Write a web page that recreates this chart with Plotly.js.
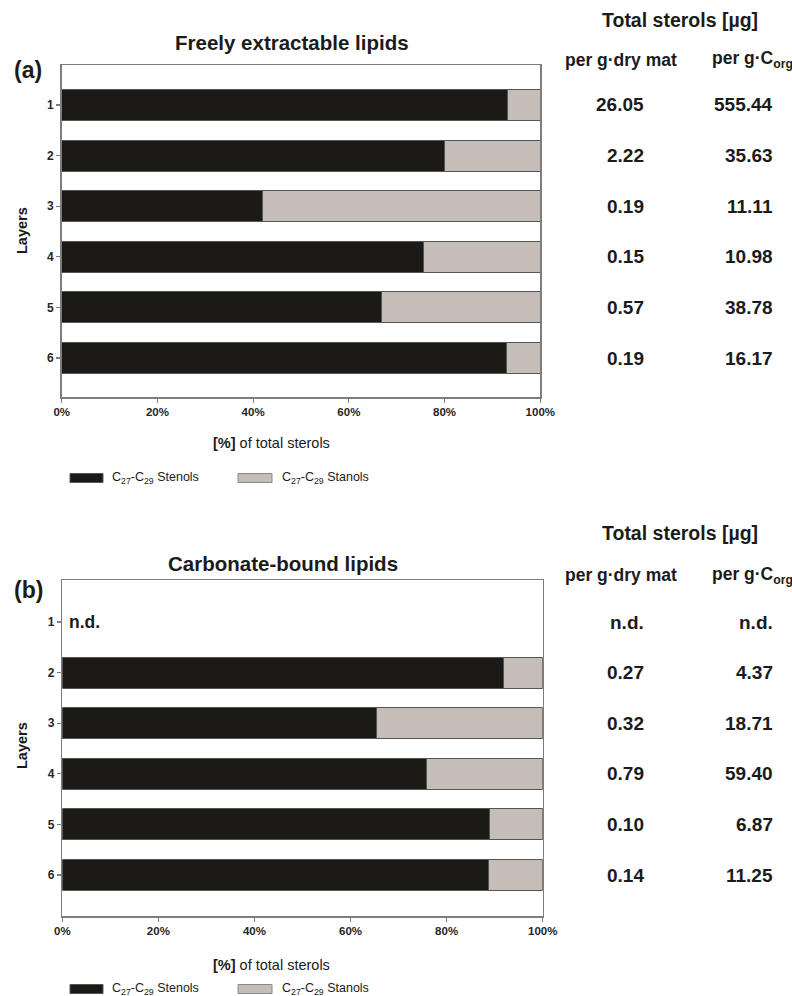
<!DOCTYPE html>
<html>
<head>
<meta charset="utf-8">
<script src="https://cdn.plot.ly/plotly-3.0.1.min.js"></script>
<style>
  html, body { margin: 0; padding: 0; background: #fff; }
  #chart { width: 792px; height: 996px; }
</style>
</head>
<body>
<div id="chart"></div>
<script>
// Layers (depth order, top to bottom)
const layers = [1, 2, 3, 4, 5, 6];

// (a) Freely extractable lipids: share of total sterols [%]
const freeStenols = [93.1, 80.0, 42.0, 75.5, 66.8, 93.0];
const freeStanols = [6.9, 20.0, 58.0, 24.5, 33.2, 7.0];
// Total sterols [µg]
const freePerDryMat = [26.05, 2.22, 0.19, 0.15, 0.57, 0.19];
const freePerCorg = [555.44, 35.63, 11.11, 10.98, 38.78, 16.17];

// (b) Carbonate-bound lipids: share of total sterols [%] (layer 1 not detected)
const carbStenols = [null, 91.9, 65.5, 75.8, 89.0, 88.8];
const carbStanols = [null, 8.1, 34.5, 24.2, 11.0, 11.2];
const carbPerDryMat = [null, 0.27, 0.32, 0.79, 0.10, 0.14];
const carbPerCorg = [null, 4.37, 18.71, 59.40, 6.87, 11.25];

const xTicks = [0, 20, 40, 60, 80, 100];
const xTickText = ['0%', '20%', '40%', '60%', '80%', '100%'];
const seriesNames = ['C<sub>27</sub>-C<sub>29</sub> Stenols', 'C<sub>27</sub>-C<sub>29</sub> Stanols'];

const W = 792, H = 996;
const px = x => x / W;
const py = y => 1 - y / H;

const FONT = 'Liberation Sans, Arial, Helvetica, sans-serif';
const TXT = '#1b1b1b';
const STENOL = '#1c1a17';
const STANOL = '#c4bdb8';
const EDGE = '#555555';
const FRAME = '#7d7d7d';

function barTrace(vals, name, color, xa, ya) {
  return {
    type: 'bar', orientation: 'h',
    y: layers, x: vals, name: name,
    xaxis: xa, yaxis: ya,
    width: 0.61,
    marker: { color: color, line: { color: EDGE, width: 1 } },
    showlegend: false, hoverinfo: 'x+y'
  };
}

const data = [
  barTrace(freeStenols, seriesNames[0], STENOL, 'x', 'y'),
  barTrace(freeStanols, seriesNames[1], STANOL, 'x', 'y'),
  barTrace(carbStenols, seriesNames[0], STENOL, 'x2', 'y2'),
  barTrace(carbStanols, seriesNames[1], STANOL, 'x2', 'y2')
];

function xAxis(domain, anchor) {
  return {
    domain: domain, anchor: anchor, range: [0, 100],
    tickmode: 'array', tickvals: xTicks,
    ticktext: xTickText.map(t => '<b>' + t + '</b>'),
    ticks: 'outside', ticklen: 4, tickwidth: 1.2, tickcolor: FRAME,
    showline: true, linecolor: FRAME, linewidth: 1.5, mirror: true,
    showgrid: false, zeroline: false, automargin: false,
    tickfont: { family: FONT, size: 11.5, color: '#262626' }
  };
}
function yAxis(domain, anchor, range) {
  return {
    domain: domain, anchor: anchor, range: range,
    tickmode: 'array', tickvals: layers,
    ticktext: layers.map(l => '<b>' + l + '</b>'),
    ticks: 'outside', ticklen: 4, tickwidth: 1.2, tickcolor: FRAME,
    showline: true, linecolor: FRAME, linewidth: 1.5, mirror: true,
    showgrid: false, zeroline: false, automargin: false,
    tickfont: { family: FONT, size: 12, color: '#262626' }
  };
}

const annotations = [];
const shapes = [];
function txt(x, y, text, size, opts) {
  annotations.push(Object.assign({
    xref: 'paper', yref: 'paper', x: px(x), y: py(y), text: text,
    showarrow: false, xanchor: 'center', yanchor: 'middle',
    font: { family: FONT, size: size, color: TXT }
  }, opts || {}));
}

// Panel furniture: title, panel letter, axis titles, legend, totals table
function panel(o) {
  txt(o.titleX, o.titleY, '<b>' + o.title + '</b>', 20.5);
  txt(o.letterX, o.letterY, '<b>' + o.letter + '</b>', 23);
  txt(22, o.layersY, '<b>Layers</b>', 14.5, { textangle: -90 });
  txt(271, o.xTitleY, '<b>[%]</b> of total sterols', 14.5);

  // legend swatches and labels
  shapes.push({ type: 'rect', xref: 'paper', yref: 'paper',
    x0: px(70), x1: px(103), y0: py(o.legY - 4.5), y1: py(o.legY + 4.5),
    fillcolor: STENOL, line: { color: EDGE, width: 1 } });
  shapes.push({ type: 'rect', xref: 'paper', yref: 'paper',
    x0: px(238), x1: px(272), y0: py(o.legY - 4.5), y1: py(o.legY + 4.5),
    fillcolor: STANOL, line: { color: '#8a8a8a', width: 1 } });
  txt(110, o.legY, seriesNames[0], 12.5, { xanchor: 'left' });
  txt(280, o.legY, seriesNames[1], 12.5, { xanchor: 'left' });

  // totals table headers
  txt(680, o.totY, '<b>Total sterols [µg]</b>', 19.5);
  txt(621, o.subY, '<b>per g·dry mat</b>', 17.5);
  txt(752, o.subY, '<b>per g·C<sub>org</sub></b>', 17.5);

  // totals table values, placed at each layer's bar
  layers.forEach((L, i) => {
    const a = o.dry[i], b = o.corg[i];
    const base = { xref: 'paper', yref: o.ya, y: L, showarrow: false,
      xanchor: 'right', yanchor: 'middle',
      font: { family: FONT, size: 19, color: TXT } };
    annotations.push(Object.assign({}, base, { x: px(646),
      text: '<b>' + (a === null ? 'n.d.' : a.toFixed(2)) + '</b>' }));
    annotations.push(Object.assign({}, base, { x: px(775),
      text: '<b>' + (b === null ? 'n.d.' : b.toFixed(2)) + '</b>' }));
  });
}

panel({ title: 'Freely extractable lipids', titleX: 292, titleY: 43,
  letter: '(a)', letterX: 28, letterY: 70, layersY: 231, xTitleY: 443,
  legY: 478, totY: 20, subY: 60, ya: 'y',
  dry: freePerDryMat, corg: freePerCorg });

panel({ title: 'Carbonate-bound lipids', titleX: 283, titleY: 563,
  letter: '(b)', letterX: 28, letterY: 590, layersY: 746, xTitleY: 965,
  legY: 989, totY: 533, subY: 575, ya: 'y2',
  dry: carbPerDryMat, corg: carbPerCorg });

// "not detected" marker for the empty layer in panel (b)
layers.forEach((L, i) => {
  if (carbStenols[i] === null) {
    annotations.push({ xref: 'x2', yref: 'y2', x: 0, y: L, text: '<b>n.d.</b>',
      showarrow: false, xanchor: 'left', yanchor: 'middle', xshift: 5,
      font: { family: FONT, size: 17.5, color: TXT } });
  }
});

const layout = {
  width: W, height: H,
  margin: { l: 0, r: 0, t: 0, b: 0, pad: 0 },
  paper_bgcolor: '#ffffff', plot_bgcolor: '#ffffff',
  barmode: 'stack', bargap: 0,
  showlegend: false,
  xaxis: xAxis([px(61.7), px(540.3)], 'y'),
  yaxis: yAxis([py(397), py(65)], 'x', [6.77, 0.21]),
  xaxis2: xAxis([px(62.3), px(542.7)], 'y2'),
  yaxis2: yAxis([py(916), py(580)], 'x2', [6.81, 0.17]),
  annotations: annotations,
  shapes: shapes
};

Plotly.newPlot('chart', data, layout, { staticPlot: true, displayModeBar: false });
</script>
</body>
</html>
